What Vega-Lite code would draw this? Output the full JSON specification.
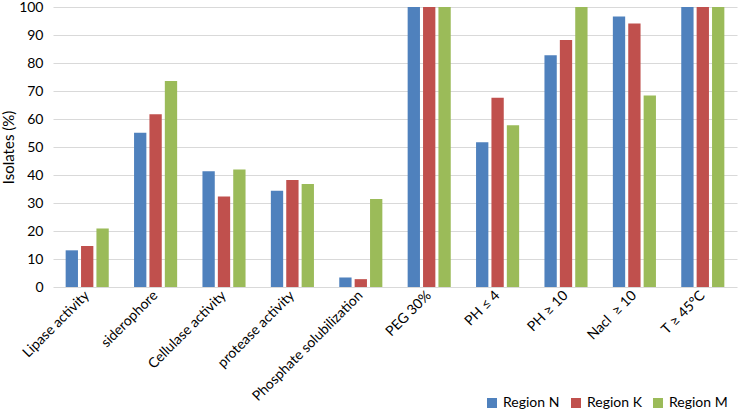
{
  "$schema": "https://vega.github.io/schema/vega-lite/v6.json",
  "width": 684,
  "height": 280,
  "autosize": "none",
  "padding": {"left": 53, "top": 7, "right": 1, "bottom": 126},
  "background": "white",
  "config": {
    "view": {"stroke": null},
    "font": "Lato",
    "axis": {"labelFont": "Lato", "titleFont": "Lato", "labelColor": "#000", "titleColor": "#000"}
  },
  "data": {
    "values": [
      {"test": "Lipase activity", "region": "Region N", "value": 13.1},
      {"test": "Lipase activity", "region": "Region K", "value": 14.6},
      {"test": "Lipase activity", "region": "Region M", "value": 20.9},
      {"test": "siderophore", "region": "Region N", "value": 55.1},
      {"test": "siderophore", "region": "Region K", "value": 61.7},
      {"test": "siderophore", "region": "Region M", "value": 73.6},
      {"test": "Cellulase activity", "region": "Region N", "value": 41.3},
      {"test": "Cellulase activity", "region": "Region K", "value": 32.3},
      {"test": "Cellulase activity", "region": "Region M", "value": 42.0},
      {"test": "protease activity", "region": "Region N", "value": 34.4},
      {"test": "protease activity", "region": "Region K", "value": 38.2},
      {"test": "protease activity", "region": "Region M", "value": 36.8},
      {"test": "Phosphate solubilization", "region": "Region N", "value": 3.4},
      {"test": "Phosphate solubilization", "region": "Region K", "value": 2.8},
      {"test": "Phosphate solubilization", "region": "Region M", "value": 31.4},
      {"test": "PEG 30%", "region": "Region N", "value": 100},
      {"test": "PEG 30%", "region": "Region K", "value": 100},
      {"test": "PEG 30%", "region": "Region M", "value": 100},
      {"test": "PH ≤ 4", "region": "Region N", "value": 51.7},
      {"test": "PH ≤ 4", "region": "Region K", "value": 67.6},
      {"test": "PH ≤ 4", "region": "Region M", "value": 57.8},
      {"test": "PH ≥ 10", "region": "Region N", "value": 82.8},
      {"test": "PH ≥ 10", "region": "Region K", "value": 88.2},
      {"test": "PH ≥ 10", "region": "Region M", "value": 100},
      {"test": "Nacl\u00a0 ≥ 10", "region": "Region N", "value": 96.6},
      {"test": "Nacl\u00a0 ≥ 10", "region": "Region K", "value": 94.1},
      {"test": "Nacl\u00a0 ≥ 10", "region": "Region M", "value": 68.4},
      {"test": "T ≥ 45°C", "region": "Region N", "value": 100},
      {"test": "T ≥ 45°C", "region": "Region K", "value": 100},
      {"test": "T ≥ 45°C", "region": "Region M", "value": 100}
    ]
  },
  "layer": [
    {
      "mark": {"type": "bar"},
      "encoding": {
        "x": {
          "field": "test",
          "type": "nominal",
          "sort": null,
          "scale": {"paddingInner": 0.37, "paddingOuter": 0.185},
          "axis": {
            "title": null,
            "labelAngle": -45,
            "labelAlign": "right",
            "labelBaseline": "middle",
            "labelFontSize": 14,
            "labelPadding": 6,
            "ticks": false,
            "domain": false,
            "grid": false
          }
        },
        "xOffset": {
          "field": "region",
          "type": "nominal",
          "sort": ["Region N", "Region K", "Region M"],
          "scale": {"paddingInner": 0.2, "paddingOuter": 0}
        },
        "y": {
          "field": "value",
          "type": "quantitative",
          "scale": {"domain": [0, 100], "nice": false},
          "axis": {
            "title": "Isolates (%)",
            "titleFontSize": 15,
            "titleFontWeight": "normal",
            "titlePadding": 2,
            "values": [0, 10, 20, 30, 40, 50, 60, 70, 80, 90, 100],
            "labelFontSize": 14,
            "labelPadding": 10,
            "ticks": false,
            "domain": false,
            "grid": true,
            "gridColor": "#d9d9d9",
            "gridWidth": 1
          }
        },
        "color": {
          "field": "region",
          "type": "nominal",
          "sort": ["Region N", "Region K", "Region M"],
          "scale": {"domain": ["Region N", "Region K", "Region M"], "range": ["#4F81BD", "#C0504D", "#9BBB59"]},
          "legend": {
            "title": null,
            "orient": "none",
            "direction": "horizontal",
            "legendX": 432,
            "legendY": 389,
            "symbolType": "square",
            "symbolSize": 100,
            "symbolStrokeWidth": 0,
            "labelFontSize": 14,
            "labelColor": "#000",
            "columnPadding": 9,
            "labelOffset": 4
          }
        }
      }
    }
  ]
}
